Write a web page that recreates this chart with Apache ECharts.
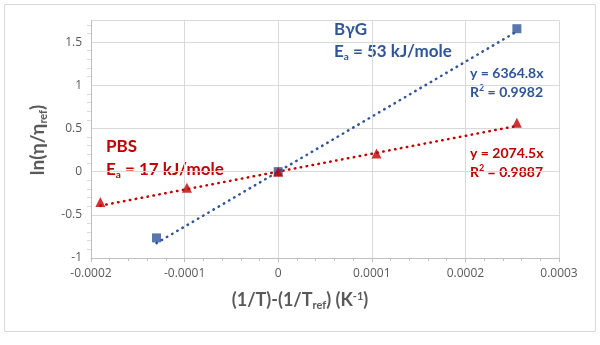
<!DOCTYPE html>
<html>
<head>
<meta charset="utf-8">
<script src="https://cdn.jsdelivr.net/npm/echarts@6/dist/echarts.min.js"></script>
<style>
html,body{margin:0;padding:0;background:#fff;}
#c{width:600px;height:345px;}
</style>
</head>
<body>
<div id="c"></div>
<script>
// Data
var bygX = [-0.00013, 0, 0.000255];
var bygY = [-0.767, 0, 1.655];
var pbsX = [-0.00019, -0.0000975, 0, 0.000105, 0.000255];
var pbsY = [-0.353, -0.186, 0, 0.21, 0.565];
var bygSlope = 6364.8;
var pbsSlope = 2074.5;
var bygR2 = '0.9982';
var pbsR2 = '0.9887';
var xTicks = [-0.0002, -0.0001, 0, 0.0001, 0.0002, 0.0003];
var yTicks = [-1, -0.5, 0, 0.5, 1, 1.5];

var BLUE = '#2F5597', RED = '#C00000', GRAY = '#595959';

function pts(xs, ys){ return xs.map(function(x,i){return [x, ys[i]];}); }
function trend(xs, slope){
  var a = Math.min.apply(null, xs), b = Math.max.apply(null, xs);
  return [[a, slope*a],[0,0],[b, slope*b]];
}

var chart = echarts.init(document.getElementById('c'), null, {renderer:'canvas'});
var font = 'Lato, "Open Sans", sans-serif';
var tfont = '"Open Sans", Lato, sans-serif';
var option = {
  animation:false,
  grid:{left:91, right:41, top:20.5, bottom:87},
  xAxis:{
    type:'value', min:-0.0002, max:0.0003, interval:0.0001,
    axisLine:{show:true, onZero:false, lineStyle:{color:'#BFBFBF', width:1}},
    axisTick:{show:true, length:4, lineStyle:{color:'#BFBFBF'}},
    minorTick:{show:true, splitNumber:5, length:3, lineStyle:{color:'#BFBFBF'}},
    splitLine:{show:true, lineStyle:{color:'#D9D9D9'}},
    axisLabel:{color:GRAY, fontSize:12, fontFamily:tfont, margin:10,
      formatter:function(v){ var r=Math.round(v*10000)/10000; for (var i=0;i<xTicks.length;i++){ if (Math.abs(xTicks[i]-r)<1e-9) return String(xTicks[i]);} return ''; }}
  },
  yAxis:{
    type:'value', min:-1, max:1.75, interval:0.5,
    axisLine:{show:true, onZero:false, lineStyle:{color:'#BFBFBF', width:1}},
    axisTick:{show:false},
    minorTick:{show:true, splitNumber:5, length:4, lineStyle:{color:'#D9D9D9'}},
    splitLine:{show:true, lineStyle:{color:'#D9D9D9'}},
    axisLabel:{color:GRAY, fontSize:12, fontFamily:tfont, margin:9,
      formatter:function(v){ for (var i=0;i<yTicks.length;i++){ if (Math.abs(yTicks[i]-v)<1e-9) return String(yTicks[i]);} return ''; }}
  },
  series:[
    {type:'line', data:trend(bygX, bygSlope), showSymbol:false, symbol:'none',
      lineStyle:{color:BLUE, width:2.5, type:[0.5,5.5], cap:'round'}, z:2},
    {type:'line', data:trend(pbsX, pbsSlope), showSymbol:false, symbol:'none',
      lineStyle:{color:RED, width:2.5, type:[0.5,5.5], cap:'round'}, z:2},
    {type:'scatter', data:pts(bygX, bygY), symbol:'rect', symbolSize:9, itemStyle:{color:BLUE}, z:3},
    {type:'scatter', data:pts(pbsX, pbsY), symbol:'triangle', symbolSize:10, itemStyle:{color:RED}, z:4}
  ],
  graphic:[
    {type:'rect', shape:{x:4.5, y:4.5, width:591, height:327}, style:{fill:'none', stroke:'#D9D9D9', lineWidth:1}, silent:true, z:-1},
    {type:'text', left:334, top:21, style:{text:'BγG', fill:BLUE, font:'bold 17px '+font}},
    {type:'text', left:334, top:43, style:{text:'{n|E}{s|a}{n| = 53 kJ/mole}', rich:{n:{fill:BLUE, font:'bold 17px '+font}, s:{fill:BLUE, font:'bold 10px '+font, padding:[10,0,0,0]}}}},
    {type:'text', left:106, top:138, style:{text:'PBS', fill:RED, font:'bold 17px '+font}},
    {type:'text', left:106, top:161, style:{text:'{n|E}{s|a}{n| = 17 kJ/mole}', rich:{n:{fill:RED, font:'bold 17px '+font}, s:{fill:RED, font:'bold 10px '+font, padding:[10,0,0,0]}}}},
    {type:'text', left:470, top:66, style:{text:'y = '+bygSlope+'x', fill:BLUE, font:'bold 14px '+font}},
    {type:'text', left:470, top:84, style:{text:'{n|R}{s|2}{n| = '+bygR2+'}', rich:{n:{fill:BLUE, font:'bold 14px '+font}, s:{fill:BLUE, font:'bold 9px '+font, padding:[0,0,7,0]}}}},
    {type:'text', left:470, top:146, style:{text:'y = '+pbsSlope+'x', fill:RED, font:'bold 14px '+font}},
    {type:'text', left:470, top:164, style:{text:'{n|R}{s|2}{n| = '+pbsR2+'}', rich:{n:{fill:RED, font:'bold 14px '+font}, s:{fill:RED, font:'bold 9px '+font, padding:[0,0,7,0]}}}},
    {type:'text', x:300, y:300, style:{text:'{n|(1/T)-(1/T}{s|ref}{n|) (K}{p|-1}{n|)}', align:'center', verticalAlign:'middle',
      rich:{n:{fill:GRAY, font:'bold 18px '+font}, s:{fill:GRAY, font:'bold 11px '+font, padding:[10,0,0,0]}, p:{fill:GRAY, font:'bold 11px '+font, padding:[0,0,8,0]}}}},
    {type:'text', x:38, y:140, rotation:Math.PI/2, style:{text:'{n|ln(η/η}{s|ref}{n|)}', align:'center', verticalAlign:'middle',
      rich:{n:{fill:GRAY, font:'bold 19px '+font}, s:{fill:GRAY, font:'bold 11px '+font, padding:[10,0,0,0]}}}}
  ]
};
chart.setOption(option);
</script>
</body>
</html>
